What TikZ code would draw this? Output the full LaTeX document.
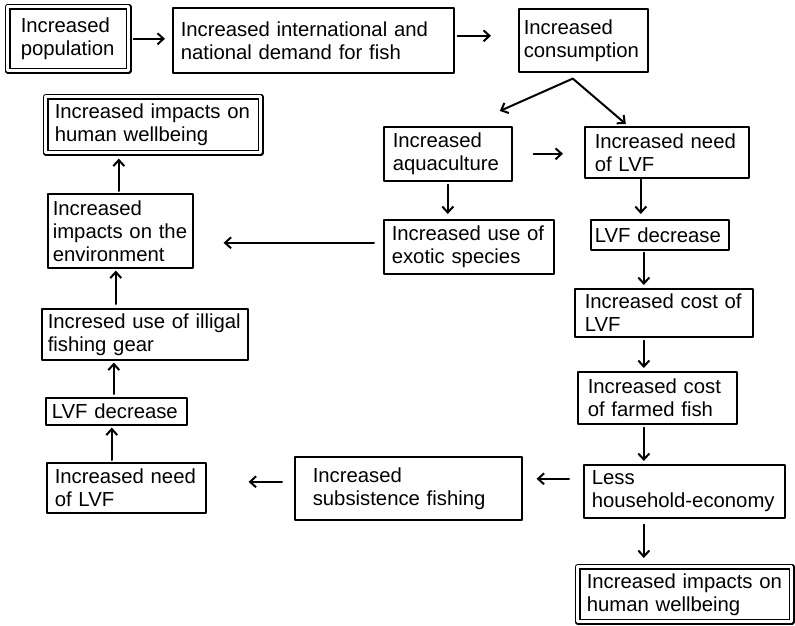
\documentclass[tikz,border=0pt]{standalone}
\usepackage{fontspec}
\setmainfont{Liberation Sans}
\usetikzlibrary{arrows.meta,calc}
\exhyphenpenalty=10000
\begin{document}
\begin{tikzpicture}[x=1pt,y=-1pt,line join=round,line cap=round,
  box/.style={draw,line width=1.6pt,anchor=north west,align=left,inner ysep=0pt,inner xsep=#1,font=\fontsize{20.3}{23}\selectfont},
  box/.default=9pt,
  dbox/.style={box=#1,line width=1.6pt,double,double distance=3pt},
  dbox/.default=9pt,
  arr/.style={-{Straight Barb[length=6pt,width=11pt]},line width=2pt}]
\useasboundingbox (0,0) rectangle (795,626);
\node[dbox=13pt,text width=95pt,minimum height=64pt] (pop) at (7,6) {Increased\\population};
\node[box=8pt,text width=265pt,minimum height=65pt] (demand) at (172,7) {Increased international and\\national demand for fish};
\node[box=5pt,text width=119pt,minimum height=63pt] (cons) at (518,8) {Increased\\consumption};
\node[box=9pt,text width=110pt,minimum height=54pt] (aqua) at (383,126) {Increased\\aquaculture};
\node[box=10pt,text width=144pt,minimum height=51pt] (needR) at (584,126) {Increased need\\of LVF};
\node[box=8pt,text width=154pt,minimum height=54pt] (exotic) at (383,219) {Increased use of\\exotic species};
\node[box=4pt,text width=130pt,minimum height=30pt] (decR) at (590,219) {LVF decrease};
\node[box=10pt,text width=158pt,minimum height=48pt] (costL) at (574,288) {Increased cost of\\LVF};
\node[box=10pt,text width=139pt,minimum height=52pt] (costF) at (577,371) {Increased cost\\of farmed fish};
\node[box=8pt,text width=185pt,minimum height=53pt] (house) at (583,464) {Less\\household-economy};
\node[dbox=9pt,text width=196pt,minimum height=55pt] (wellB) at (577,566) {Increased impacts on\\human wellbeing};
\node[box=18pt,text width=191pt,minimum height=63pt] (subs) at (294,456) {Increased\\subsistence fishing};
\node[box=8pt,text width=143pt,minimum height=50pt] (needL) at (46,462) {Increased need\\of LVF};
\node[box=6pt,text width=129pt,minimum height=27pt] (decL) at (45,397) {LVF decrease};
\node[box=6pt,text width=194pt,minimum height=51pt] (gear) at (41,308) {Incresed use of illigal\\fishing gear};
\node[box=5pt,text width=135pt,minimum height=74pt] (env) at (47,193) {Increased\\impacts on the\\environment};
\node[dbox=9pt,text width=197pt,minimum height=56pt] (wellT) at (45,96) {Increased impacts on\\human wellbeing};
% top row and fork
\draw[arr,shorten <=4pt,shorten >=7pt] (pop.east) -- (pop.east -| demand.west);
\draw[arr,shorten <=3pt,shorten >=27pt] ([yshift=4.5pt]demand.east) -- ([yshift=4.5pt]demand.east -| cons.west);
\coordinate (fork) at ($(cons.south)+(-10.5,6)$);
\coordinate (toAqua) at ($(aqua.north)+(52,-15)$);
\coordinate (toNeed) at ($(needR.north)+(-41,-2)$);
\draw[arr] (fork) -- (toAqua);
\draw[arr] (fork) -- (toNeed);
% right column
\draw[arr,shorten <=21pt,shorten >=21pt] (aqua.east) -- (aqua.east -| needR.west);
\draw[arr,shorten <=3pt,shorten >=5pt] (aqua.south) -- (aqua.south |- exotic.north);
\draw[arr,shorten <=1pt,shorten >=5pt] ([xshift=-26pt]needR.south) -- ([xshift=-26pt]needR.south |- decR.north);
\draw[arr,shorten <=2pt,shorten >=3pt] ([xshift=-16pt]decR.south) -- ([xshift=-16pt]decR.south |- costL.north);
\draw[arr,shorten <=3pt,shorten >=3pt] ([xshift=-20pt]costL.south) -- ([xshift=-20pt]costL.south |- costF.north);
\draw[arr,shorten <=3pt,shorten >=3pt] ([xshift=-13.5pt]costF.south) -- ([xshift=-13.5pt]costF.south |- house.north);
\draw[arr,shorten <=6pt,shorten >=8pt] ([xshift=-40.5pt]house.south) -- ([xshift=-40.5pt]house.south |- wellB.north);
% bottom row and left column
\draw[arr,shorten <=14pt,shorten >=14pt] ([yshift=12.5pt]house.west) -- ([yshift=12.5pt]house.west -| subs.east);
\draw[arr,shorten <=12pt,shorten >=42pt] ([yshift=6.5pt]subs.west) -- ([yshift=6.5pt]subs.west -| needL.east);
\draw[arr,shorten <=2pt,shorten >=2pt] ([xshift=-14.5pt]needL.north) -- ([xshift=-14.5pt]needL.north |- decL.south);
\draw[arr,shorten <=3pt,shorten >=2pt] ([xshift=-2.5pt]decL.north) -- ([xshift=-2.5pt]decL.north |- gear.south);
\draw[arr,shorten <=4pt,shorten >=2pt] ([xshift=-29pt]gear.north) -- ([xshift=-29pt]gear.north |- env.south);
\draw[arr,shorten <=2pt,shorten >=5pt] ([xshift=-1.5pt]env.north) -- ([xshift=-1.5pt]env.north |- wellT.south);
\draw[arr,shorten <=9pt,shorten >=30pt] ([yshift=4pt]exotic.west) -- ([yshift=4pt]exotic.west -| env.east);
\end{tikzpicture}
\end{document}
